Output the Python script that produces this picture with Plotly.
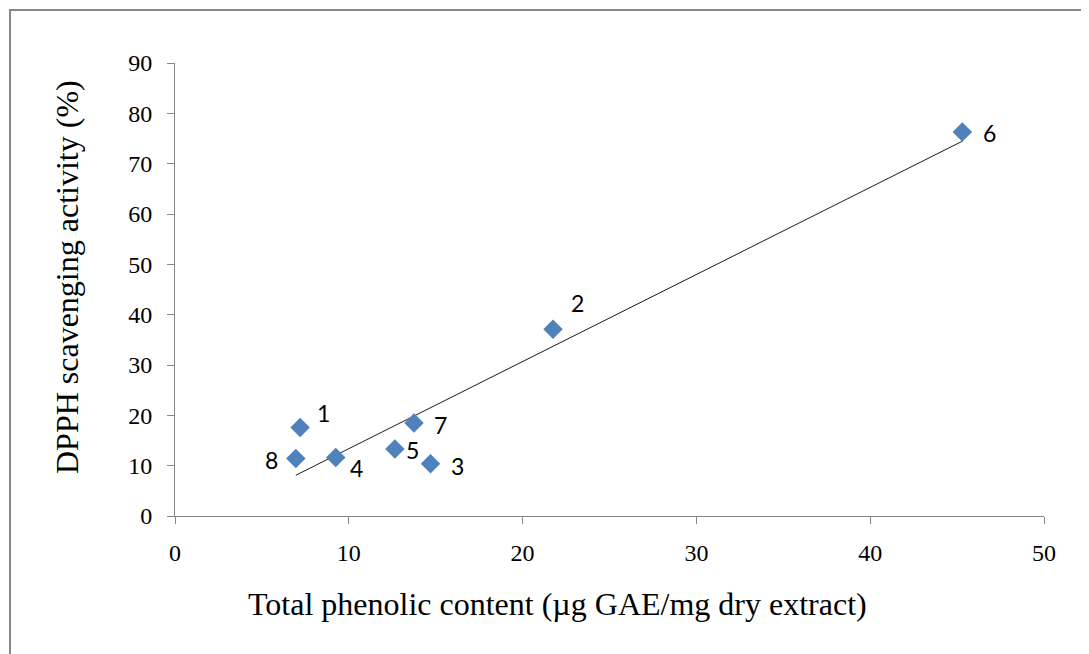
import numpy as np
import plotly.graph_objects as go

sample_labels = ["1", "2", "3", "4", "5", "6", "7", "8"]
phenolic = [7.2, 21.75, 14.7, 9.25, 12.65, 45.3, 13.75, 6.95]
dpph = [17.6, 37.1, 10.4, 11.6, 13.3, 76.3, 18.5, 11.4]
x_title = "Total phenolic content (µg GAE/mg dry extract)"
y_title = "DPPH scavenging activity (%)"

# label offsets in pixels (dx, dy)
label_offsets = {"1": (23, 14), "2": (24, 26), "3": (27, -2), "4": (21, -10),
                 "5": (18, -1), "6": (27, -1), "7": (27, -2), "8": (-24, -1)}

slope, intercept = np.polyfit(phenolic, dpph, 1)
xfit = np.array([min(phenolic), max(phenolic)])
yfit = slope * xfit + intercept

fig = go.Figure()
fig.add_trace(go.Scatter(x=xfit, y=yfit, mode="lines",
                         line=dict(color="#1a1a1a", width=1), showlegend=False, hoverinfo="skip"))
fig.add_trace(go.Scatter(x=phenolic, y=dpph, mode="markers",
                         marker=dict(symbol="diamond", size=15, color="#4F81BD"),
                         showlegend=False))

for lab, x, y in zip(sample_labels, phenolic, dpph):
    dx, dy = label_offsets[lab]
    fig.add_annotation(x=x, y=y, text=lab, showarrow=False, xshift=dx, yshift=dy,
                       font=dict(family="Lato, Liberation Sans, sans-serif", size=23, color="#000000"))

serif = "Liberation Serif, Times New Roman, serif"
fig.update_layout(
    width=1089, height=654,
    margin=dict(l=167, r=53, t=55, b=146),
    paper_bgcolor="white", plot_bgcolor="white",
    font=dict(family=serif, color="#000000"),
    xaxis=dict(range=[0, 50], dtick=10, showgrid=False, zeroline=False,
               showline=True, linecolor="#868686", linewidth=1,
               ticks="outside", ticklen=7, tickcolor="#868686",
               tickfont=dict(family=serif, size=24), ticklabelstandoff=8),
    yaxis=dict(range=[0, 90], dtick=10, showgrid=False, zeroline=False,
               showline=True, linecolor="#868686", linewidth=1,
               ticks="outside", ticklen=7, tickcolor="#868686",
               tickfont=dict(family=serif, size=24), ticklabelstandoff=10),
)

# axis titles (offset from plot centre as in the original)
fig.add_annotation(xref="paper", yref="paper", x=(557.5 - 175) / 869, y=(516 - 604) / 453,
                   xanchor="center", yanchor="middle", showarrow=False, text=x_title,
                   font=dict(family=serif, size=32, color="#000000"))
fig.add_annotation(xref="paper", yref="paper", x=(67 - 175) / 869, y=(516 - 277) / 453,
                   xanchor="center", yanchor="middle", showarrow=False, text=y_title,
                   textangle=-90, font=dict(family=serif, size=32, color="#000000"))

# chart border (outer frame)
fig.add_shape(type="rect", xref="paper", yref="paper",
              x0=(10 - 175) / 869, x1=1.2, y0=-0.5, y1=1 + (63 - 10) / 453,
              line=dict(color="#878787", width=2), fillcolor="rgba(0,0,0,0)", layer="below")

fig.write_html("out.html")
